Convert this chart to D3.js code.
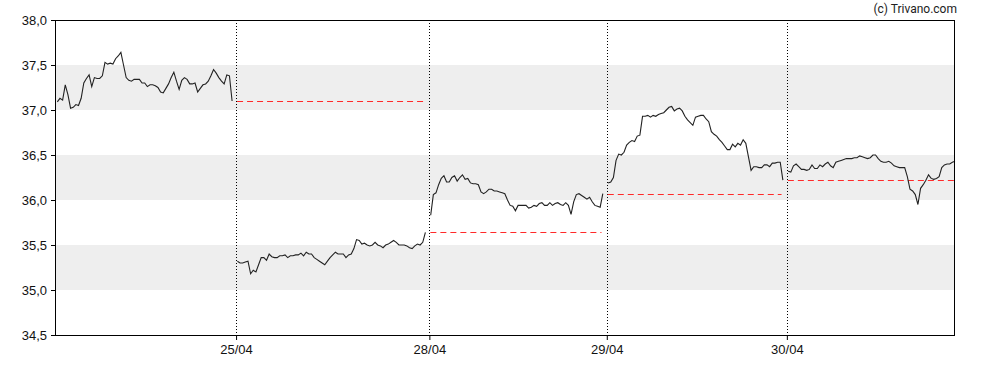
<!DOCTYPE html>
<html>
<head>
<meta charset="utf-8">
<script src="https://cdn.jsdelivr.net/npm/d3@7"></script>
<style>
  body { margin: 0; background: #fff; }
  svg text { font-family: "Liberation Sans", Arial, sans-serif; }
</style>
</head>
<body>
<svg id="chart"></svg>
<script>
// intraday quotes, one array per trading day
const dayLabels = ["24/04", "25/04", "28/04", "29/04", "30/04"];

const day1 = [37.09, 37.13, 37.11, 37.28, 37.17, 37.02, 37.03, 37.06, 37.05, 37.13,
  37.30, 37.35, 37.39, 37.26, 37.36, 37.35, 37.35, 37.38, 37.53, 37.51,
  37.52, 37.51, 37.57, 37.60, 37.64, 37.50, 37.36, 37.33, 37.32, 37.34,
  37.34, 37.34, 37.30, 37.30, 37.26, 37.28, 37.28, 37.27, 37.25, 37.20,
  37.19, 37.24, 37.29, 37.36, 37.42, 37.32, 37.23, 37.33, 37.36, 37.34,
  37.29, 37.29, 37.30, 37.20, 37.24, 37.28, 37.29, 37.32, 37.38, 37.45,
  37.41, 37.36, 37.32, 37.29, 37.39, 37.38, 37.10];

const day2 = [35.32, 35.30, 35.30, 35.31, 35.32, 35.18, 35.22, 35.20, 35.28, 35.36,
  35.36, 35.33, 35.40, 35.37, 35.36, 35.36, 35.38, 35.38, 35.39, 35.36,
  35.38, 35.38, 35.39, 35.39, 35.41, 35.38, 35.42, 35.40, 35.40, 35.36,
  35.34, 35.32, 35.30, 35.28, 35.32, 35.36, 35.39, 35.42, 35.40, 35.40,
  35.40, 35.36, 35.39, 35.40, 35.46, 35.56, 35.55, 35.51, 35.52, 35.50,
  35.49, 35.50, 35.53, 35.50, 35.49, 35.47, 35.50, 35.51, 35.53, 35.55,
  35.53, 35.50, 35.50, 35.50, 35.49, 35.47, 35.46, 35.49, 35.51, 35.50,
  35.53, 35.64];

const day3 = [35.83, 36.06, 36.08, 36.17, 36.24, 36.27, 36.20, 36.20, 36.25, 36.27,
  36.21, 36.25, 36.28, 36.23, 36.24, 36.19, 36.18, 36.18, 36.17, 36.09,
  36.07, 36.09, 36.12, 36.12, 36.10, 36.10, 36.09, 36.08, 36.07, 36.00,
  35.94, 35.93, 35.88, 35.94, 35.94, 35.94, 35.94, 35.91, 35.92, 35.94,
  35.93, 35.96, 35.97, 35.94, 35.94, 35.97, 35.94, 35.96, 35.97, 35.95,
  35.94, 35.97, 35.94, 35.84, 35.98, 36.06, 36.07, 36.05, 36.03, 36.01,
  36.03, 35.98, 35.94, 35.93, 35.92, 36.07];

const day4 = [36.19, 36.20, 36.25, 36.44, 36.51, 36.50, 36.53, 36.61, 36.64, 36.66,
  36.65, 36.71, 36.72, 36.93, 36.93, 36.94, 36.92, 36.94, 36.93, 36.95,
  36.96, 36.97, 37.00, 37.03, 37.04, 36.99, 37.01, 37.02, 36.99, 36.93,
  36.89, 36.86, 36.83, 36.92, 36.93, 36.94, 36.94, 36.90, 36.87, 36.76,
  36.73, 36.71, 36.67, 36.64, 36.60, 36.56, 36.56, 36.62, 36.59, 36.63,
  36.61, 36.67, 36.63, 36.48, 36.33, 36.37, 36.37, 36.36, 36.36, 36.39,
  36.39, 36.37, 36.41, 36.41, 36.42, 36.42, 36.22];

const day5 = [36.32, 36.31, 36.38, 36.40, 36.37, 36.34, 36.34, 36.33, 36.34, 36.39,
  36.35, 36.35, 36.39, 36.37, 36.40, 36.42, 36.38, 36.36, 36.42, 36.43,
  36.44, 36.45, 36.46, 36.46, 36.46, 36.47, 36.47, 36.49, 36.48, 36.47,
  36.46, 36.47, 36.50, 36.50, 36.46, 36.43, 36.42, 36.42, 36.43, 36.41,
  36.38, 36.37, 36.36, 36.36, 36.36, 36.26, 36.12, 36.10, 36.06, 35.95,
  36.13, 36.17, 36.22, 36.28, 36.24, 36.23, 36.24, 36.26, 36.36, 36.39,
  36.40, 36.40, 36.42, 36.43];

const days = [day1, day2, day3, day4, day5];
const yTicks = [34.5, 35.0, 35.5, 36.0, 36.5, 37.0, 37.5, 38.0];

const width = 988, height = 370;
const margin = { top: 20, right: 33, bottom: 35, left: 56 };

const svg = d3.select("#chart")
  .attr("width", width)
  .attr("height", height);

// each day gets one slot per quote plus one slot of gap
const offsets = [];
let acc = 0;
days.forEach(function (d, i) {
  offsets.push(acc);
  acc += d.length + 1;
});
const last = days.length - 1;
const xEnd = offsets[last] + days[last].length - 0.5;

const x = d3.scaleLinear()
  .domain([0, xEnd])
  .range([margin.left, width - margin.right]);
const y = d3.scaleLinear()
  .domain([34.5, 38.0])
  .range([height - margin.bottom, margin.top]);

// snap thin lines to the pixel grid
const px = function (v) { return Math.round(v) + 0.5; };

// grey bands on every other half point
const bands = yTicks.slice(0, -1)
  .map(function (t, i) { return [t, yTicks[i + 1]]; })
  .filter(function (b, i) { return i % 2 === 1; });

svg.append("g").selectAll("rect")
  .data(bands)
  .enter().append("rect")
  .attr("x", x(0))
  .attr("width", x(xEnd) - x(0))
  .attr("y", function (b) { return y(b[1]); })
  .attr("height", function (b) { return y(b[0]) - y(b[1]); })
  .attr("fill", "#eeeeee");

// dotted day separators
svg.append("g").selectAll("line")
  .data(offsets.slice(1))
  .enter().append("line")
  .attr("x1", function (o) { return px(x(o)); })
  .attr("x2", function (o) { return px(x(o)); })
  .attr("y1", y(38.0))
  .attr("y2", y(34.5))
  .attr("stroke", "#000")
  .attr("stroke-dasharray", "1,2");

// previous close, dashed
const prevClose = days.slice(1).map(function (d, i) {
  return { start: offsets[i + 1], end: offsets[i + 1] + d.length - 1, value: days[i][days[i].length - 1] };
});
prevClose[prevClose.length - 1].end = xEnd;

svg.append("g").selectAll("line")
  .data(prevClose)
  .enter().append("line")
  .attr("x1", function (p) { return x(p.start) + 1; })
  .attr("x2", function (p) { return x(p.end); })
  .attr("y1", function (p) { return px(y(p.value)); })
  .attr("y2", function (p) { return px(y(p.value)); })
  .attr("stroke", "#ff2a2a")
  .attr("stroke-dasharray", "6,4");

// quote line, one path per day
const line = d3.line()
  .x(function (d) { return x(d.i); })
  .y(function (d) { return y(d.v); });

svg.append("g").selectAll("path")
  .data(days.map(function (d, k) {
    return d.map(function (v, i) { return { i: offsets[k] + 0.5 + i, v: v }; });
  }))
  .enter().append("path")
  .attr("d", line)
  .attr("fill", "none")
  .attr("stroke", "#222")
  .attr("stroke-width", 1.1);

// frame
svg.append("rect")
  .attr("x", px(x(0)) - 1)
  .attr("y", px(y(38.0)))
  .attr("width", Math.round(x(xEnd) - x(0)))
  .attr("height", Math.round(y(34.5) - y(38.0)))
  .attr("fill", "none")
  .attr("stroke", "#000");

// axes
const fmt = d3.format(".1f");
svg.append("g")
  .attr("transform", "translate(" + x(0) + ",0)")
  .call(d3.axisLeft(y).tickValues(yTicks).tickSize(5).tickPadding(4)
    .tickFormat(function (d) { return fmt(d).replace(".", ","); }))
  .call(function (g) { g.select(".domain").remove(); })
  .selectAll("text")
  .attr("font-size", 13)
  .attr("fill", "#111");

svg.append("g")
  .attr("transform", "translate(0," + y(34.5) + ")")
  .call(d3.axisBottom(x).tickValues(offsets.slice(1)).tickSize(5).tickPadding(5)
    .tickFormat(function (d, i) { return dayLabels[i + 1]; }))
  .call(function (g) { g.select(".domain").remove(); })
  .selectAll("text")
  .attr("font-size", 13)
  .attr("fill", "#111");

svg.append("text")
  .attr("x", 957)
  .attr("y", 13)
  .attr("text-anchor", "end")
  .attr("font-size", 12)
  .style("font-family", "Roboto, sans-serif")
  .attr("fill", "#222")
  .text("(c) Trivano.com");
</script>
</body>
</html>
